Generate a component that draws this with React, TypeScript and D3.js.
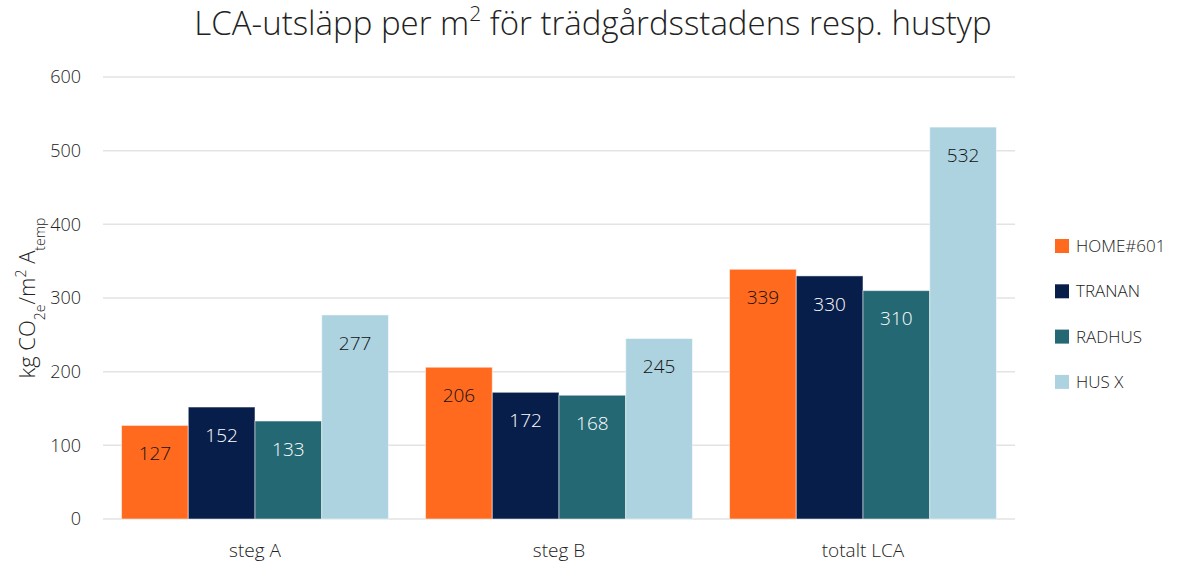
import React, { useEffect, useRef } from "react";
import * as d3 from "d3";

const categories = ["steg A", "steg B", "totalt LCA"];
const seriesNames = ["HOME#601", "TRANAN", "RADHUS", "HUS X"];
const home601 = [127, 206, 339];
const tranan = [152, 172, 330];
const radhus = [133, 168, 310];
const husX = [277, 245, 532];
const yTicks = [0, 100, 200, 300, 400, 500, 600];
const colors = ["#FF6A1F", "#081E4A", "#246874", "#ADD3E0"];
const labelColors = ["#111", "#fff", "#fff", "#111"];

const FONT = "'Open Sans', 'Segoe UI', sans-serif";

export default function App() {
  const ref = useRef<SVGSVGElement>(null);

  useEffect(() => {
    const svg = d3.select(ref.current);
    svg.selectAll("*").remove();

    const values = [home601, tranan, radhus, husX];
    const left = 103, right = 1015, top = 77, bottom = 519;

    const x0 = d3.scaleBand().domain(categories).range([left, right]).paddingInner(0.122).paddingOuter(0.061);
    const x1 = d3.scaleBand().domain(seriesNames).range([0, x0.bandwidth()]);
    const y = d3.scaleLinear().domain([0, 600]).range([bottom, top]);

    // gridlines
    svg.append("g")
      .selectAll("line")
      .data(yTicks)
      .join("line")
      .attr("x1", left)
      .attr("x2", right)
      .attr("y1", d => y(d))
      .attr("y2", d => y(d))
      .attr("stroke", "#e3e3e3")
      .attr("stroke-width", 1.5);

    // y tick labels
    svg.append("g")
      .selectAll("text")
      .data(yTicks)
      .join("text")
      .attr("x", 81)
      .attr("y", d => y(d))
      .attr("dy", "0.35em")
      .attr("text-anchor", "end")
      .attr("font-family", FONT)
      .attr("font-size", 18)
      .attr("font-weight", 350)
      .attr("fill", "#222")
      .text(d => d);

    // bars
    seriesNames.forEach((s, si) => {
      const g = svg.append("g");
      g.selectAll("rect")
        .data(values[si])
        .join("rect")
        .attr("x", (d, i) => x0(categories[i])! + x1(s)!)
        .attr("y", d => y(d))
        .attr("width", x1.bandwidth())
        .attr("height", d => y(0) - y(d))
        .attr("fill", colors[si])
        .attr("stroke", "#fff")
        .attr("stroke-opacity", 0.5)
        .attr("stroke-width", 1);
      g.selectAll("text")
        .data(values[si])
        .join("text")
        .attr("x", (d, i) => x0(categories[i])! + x1(s)! + x1.bandwidth() / 2)
        .attr("y", d => y(d) + 28)
        .attr("dy", "0.35em")
        .attr("text-anchor", "middle")
        .attr("font-family", FONT)
        .attr("font-size", 19)
        .attr("font-weight", 350)
        .attr("fill", labelColors[si])
        .text(d => d);
    });

    // category labels
    svg.append("g")
      .selectAll("text")
      .data(categories)
      .join("text")
      .attr("x", d => x0(d)! + x0.bandwidth() / 2)
      .attr("y", 550)
      .attr("dy", "0.35em")
      .attr("text-anchor", "middle")
      .attr("font-family", FONT)
      .attr("font-size", 19)
      .attr("font-weight", 350)
      .attr("fill", "#222")
      .text(d => d);

    // title
    const title = svg.append("text")
      .attr("x", 593)
      .attr("y", 35)
      .attr("text-anchor", "middle")
      .attr("font-family", FONT)
      .attr("font-size", 33)
      .attr("font-weight", 300)
      .attr("fill", "#222");
    title.append("tspan").text("LCA-utsläpp per m");
    title.append("tspan").attr("baseline-shift", "super").attr("font-size", 21).text("2");
    title.append("tspan").text(" för trädgårdsstadens resp. hustyp");

    // y axis label
    const yl = svg.append("text")
      .attr("transform", "translate(35,298) rotate(-90)")
      .attr("text-anchor", "middle")
      .attr("font-family", FONT)
      .attr("font-size", 22)
      .attr("font-weight", 350)
      .attr("fill", "#222");
    yl.append("tspan").text("kg CO");
    yl.append("tspan").attr("baseline-shift", "sub").attr("font-size", 14).text("2e");
    yl.append("tspan").text("/m");
    yl.append("tspan").attr("baseline-shift", "super").attr("font-size", 14).text("2");
    yl.append("tspan").text(" A");
    yl.append("tspan").attr("baseline-shift", "sub").attr("font-size", 14).text("temp");

    // legend
    const lg = svg.append("g");
    seriesNames.forEach((s, i) => {
      const cy = 246 + i * 45.3;
      lg.append("rect")
        .attr("x", 1055)
        .attr("y", cy - 7)
        .attr("width", 14)
        .attr("height", 14)
        .attr("fill", colors[i]);
      lg.append("text")
        .attr("x", 1076)
        .attr("y", cy)
        .attr("dy", "0.35em")
        .attr("font-family", FONT)
        .attr("font-size", 17)
        .attr("font-weight", 350)
        .attr("fill", "#222")
        .text(s);
    });
  }, []);

  return (
    <svg ref={ref} width={1190} height={564} style={{ display: "block", position: "absolute", left: 0, top: 0, background: "#fff" }} />
  );
}
